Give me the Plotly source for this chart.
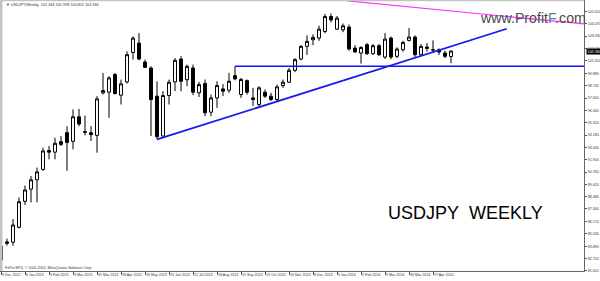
import plotly.graph_objects as go

# ---------------- data (weekly USDJPY) ----------------
opens = [82.6, 84.15, 84.26, 85.64, 88.05, 89.18, 90.04, 91.0, 92.75, 92.6,
         93.57, 94.4, 93.6, 95.87, 94.5, 94.4, 94.15, 98.09, 98.15, 99.78,
         97.87, 99.1, 101.83, 102.69, 100.94, 100.39, 97.78, 94.09, 97.84, 99.1,
         101.22, 99.3, 100.39, 98.09, 98.95, 96.3, 97.62, 98.45, 98.33, 99.68,
         97.93, 99.22, 97.62, 97.01, 98.15, 97.78, 97.47, 98.76, 99.07, 100.17,
         101.22, 102.39, 103.0, 103.16, 103.77, 105.15, 103.98, 103.92, 104.17, 102.23,
         101.77, 102.54, 101.71, 102.45, 101.4, 103.16, 101.47, 102.08, 102.94, 103.25,
         101.62, 102.33, 102.1, 102.08, 101.77, 101.446]
highs = [84.2, 84.6, 86.41, 88.41, 89.5, 90.4, 91.17, 93.02, 93.17, 93.94,
         94.09, 95.0, 96.55, 96.6, 95.99, 95.01, 97.78, 99.93, 99.62, 99.93,
         99.31, 101.93, 103.31, 103.62, 101.16, 100.54, 99.16, 98.24, 99.31, 101.31,
         101.47, 100.7, 100.7, 99.1, 99.32, 97.93, 99.16, 98.9, 99.93, 100.54,
         99.47, 99.32, 98.55, 98.7, 98.4, 98.09, 98.85, 99.32, 100.39, 101.3,
         102.5, 103.4, 103.5, 104.3, 105.4, 105.44, 105.2, 104.5, 104.4, 102.5,
         102.4, 102.7, 102.6, 102.6, 103.62, 103.3, 102.3, 102.9, 104.08, 103.4,
         102.6, 102.7, 102.94, 102.2, 102.0, 101.998]
lows = [82.3, 83.95, 83.95, 85.55, 87.7, 87.95, 87.95, 90.87, 91.94, 91.94,
        93.17, 90.87, 92.86, 95.0, 94.15, 93.63, 92.55, 97.93, 95.78, 97.93,
        97.01, 98.95, 101.16, 101.1, 100.39, 94.09, 93.78, 94.03, 97.01, 98.24,
        98.24, 98.7, 97.87, 97.7, 95.93, 95.93, 96.7, 97.8, 98.09, 99.25,
        97.62, 97.93, 96.86, 96.7, 97.62, 97.32, 97.32, 98.55, 99.01, 100.0,
        101.1, 101.6, 102.5, 102.9, 103.6, 104.6, 103.9, 103.7, 102.0, 101.8,
        100.79, 101.6, 101.6, 101.5, 101.22, 101.2, 101.3, 101.9, 102.85, 101.4,
        101.5, 101.9, 101.77, 101.6, 101.3, 100.822]
closes = [83.9, 84.3, 85.86, 88.01, 89.1, 90.04, 90.77, 92.71, 92.6, 93.42,
          93.32, 93.5, 95.87, 95.2, 94.45, 94.22, 97.53, 98.3, 99.47, 98.03,
          98.92, 101.62, 103.15, 101.22, 100.45, 97.47, 94.03, 97.84, 99.07, 101.1,
          99.16, 100.54, 98.15, 98.85, 96.24, 97.62, 98.76, 98.24, 99.16, 99.38,
          99.32, 98.15, 97.47, 98.55, 97.78, 97.47, 98.64, 99.07, 100.17, 101.16,
          102.39, 102.85, 103.22, 103.98, 105.15, 104.84, 105.0, 104.29, 102.14, 101.87,
          102.29, 101.71, 102.45, 101.62, 103.06, 101.4, 102.14, 102.76, 103.25, 101.62,
          102.39, 102.2, 102.05, 101.87, 101.47, 101.96]
bar_index = list(range(len(opens)))

date_tick_index = [0, 4, 8, 12, 16, 20, 24, 28, 32, 36, 40, 44, 48, 52, 56, 60, 64, 68, 72]
date_tick_text = ["9 Dec 2012", "6 Jan 2013", "3 Feb 2013", "3 Mar 2013", "31 Mar 2013",
                  "28 Apr 2013", "26 May 2013", "23 Jun 2013", "21 Jul 2013", "18 Aug 2013",
                  "15 Sep 2013", "13 Oct 2013", "10 Nov 2013", "8 Dec 2013", "5 Jan 2014",
                  "2 Feb 2014", "2 Mar 2014", "30 Mar 2014", "27 Apr 2014"]

price_ticks = [105.61, 104.47, 103.33, 102.19, 101.05, 99.88, 98.74, 97.60, 96.46, 95.32,
               94.18, 93.04, 91.90, 90.76, 89.62, 88.48, 87.34, 86.17, 85.03, 83.89,
               82.75, 81.61]

support_x = [39, 98]
support_y = [100.55, 100.55]
trend_x = [26, 84.3]
trend_y = [93.78, 104.02]
resist_x = [57.8, 98]
resist_y = [106.59, 104.42]

last_price = 101.96
header = "▼ USDJPY,Weekly  101.446 101.998 100.822 101.960"

# ---------------- figure ----------------
W, H = 600, 281
ML, MR, MT, MB = 0, 16, 0, 10
plot_w = W - ML - MR
x_min = -1 / 6
x_max = x_min + plot_w / 6

fig = go.Figure()
fig.add_trace(go.Candlestick(
    x=bar_index, open=opens, high=highs, low=lows, close=closes,
    increasing=dict(line=dict(color="#000000", width=1), fillcolor="#ffffff"),
    decreasing=dict(line=dict(color="#000000", width=1), fillcolor="#000000"),
    whiskerwidth=0, showlegend=False, hoverinfo="skip",
))
fig.add_trace(go.Scatter(x=support_x, y=support_y, mode="lines",
                         line=dict(color="#1010ff", width=1.5), showlegend=False))
fig.add_trace(go.Scatter(x=trend_x, y=trend_y, mode="lines",
                         line=dict(color="#1818f0", width=1.8), showlegend=False))
fig.add_trace(go.Scatter(x=resist_x, y=resist_y, mode="lines",
                         line=dict(color="#ff30ff", width=1.2), showlegend=False))

tiny = dict(family="Liberation Sans, Arial, sans-serif", size=3.6, color="#333333")

fig.update_layout(
    width=W, height=H,
    margin=dict(l=ML, r=MR, t=MT, b=MB, autoexpand=False),
    paper_bgcolor="#ffffff", plot_bgcolor="#ffffff",
    showlegend=False,
    xaxis=dict(range=[x_min, x_max], rangeslider=dict(visible=False),
               showgrid=False, zeroline=False,
               tickmode="array", tickvals=date_tick_index, ticktext=date_tick_text,
               tickangle=0,
               ticks="outside", ticklen=3, tickcolor="#555555", tickwidth=1,
               ticklabelposition="outside right", tickfont=tiny,
               showline=True, linecolor="#666666", linewidth=1, mirror=False),
    yaxis=dict(range=[81.6, 106.68], side="right", showgrid=False, zeroline=False,
               tickmode="array", tickvals=price_ticks,
               ticktext=[f"{v:.3f}" for v in price_ticks],
               ticks="outside", ticklen=2, tickcolor="#555555", tickwidth=1,
               tickfont=tiny, showline=True, linecolor="#666666", linewidth=1),
)

# gray frame bits on left and top
fig.add_shape(type="rect", xref="paper", yref="paper", x0=0, x1=2.5 / plot_w, y0=0, y1=1,
              fillcolor="#c4c4c4", line=dict(width=0), layer="above")
fig.add_shape(type="rect", xref="paper", yref="paper", x0=0, x1=1, y0=1 - 1.2 / (H - MB), y1=1,
              fillcolor="#c4c4c4", line=dict(width=0), layer="above")

plot_h = H - MT - MB
fig.add_annotation(xref="paper", yref="paper", x=4 / plot_w, y=1 - 5 / plot_h,
                   xanchor="left", yanchor="middle", text=header, showarrow=False,
                   font=dict(family="Liberation Sans, Arial, sans-serif", size=3.8, color="#333333"))
fig.add_annotation(xref="paper", yref="paper", x=3 / plot_w, y=3 / plot_h,
                   xanchor="left", yanchor="middle",
                   text="FxPro MT4, © 2001-2014, MetaQuotes Software Corp.", showarrow=False,
                   font=dict(family="Liberation Sans, Arial, sans-serif", size=3.6, color="#333333"))
fig.add_annotation(xref="paper", yref="paper", x=386 / plot_w, y=1 - 213 / plot_h,
                   xanchor="left", yanchor="middle",
                   text="USDJPY\u00a0\u00a0WEEKLY", showarrow=False,
                   font=dict(family="Liberation Sans, Arial, sans-serif", size=18, color="#000000"))
fig.add_annotation(xref="paper", yref="paper", x=478 / plot_w, y=1 - 18.5 / plot_h,
                   xanchor="left", yanchor="middle",
                   text="www.Profit<span style='color:#4d8299'>F</span>.com", showarrow=False,
                   font=dict(family="Liberation Sans, Arial, sans-serif", size=14.2, color="#4a4a4a"))
fig.add_annotation(xref="paper", yref="y", x=1, y=last_price, xanchor="left", yanchor="middle",
                   xshift=2, text=f"{last_price:.3f}", showarrow=False, bgcolor="#000000",
                   borderpad=0.6,
                   font=dict(family="Liberation Sans, Arial, sans-serif", size=3.8, color="#ffffff"))

fig.write_html("out.html")
